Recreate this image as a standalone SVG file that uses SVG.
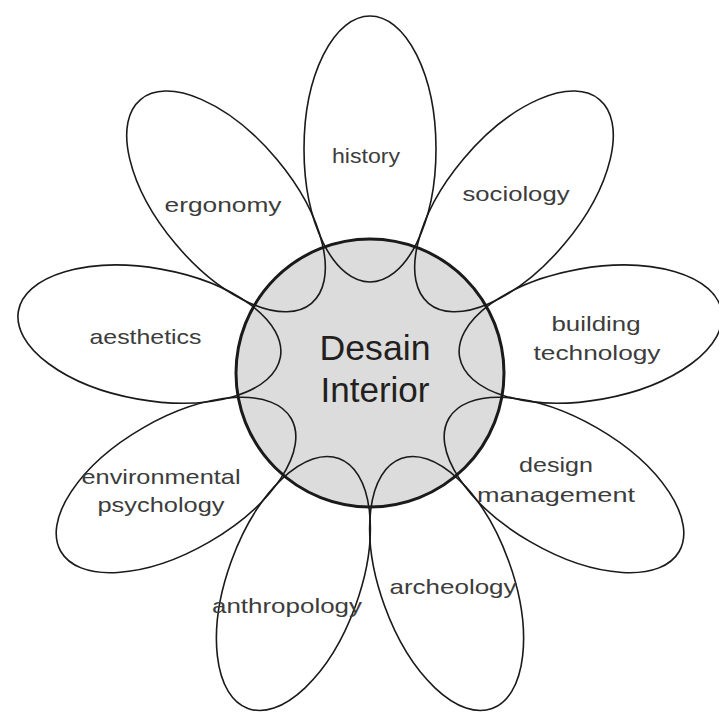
<svg xmlns="http://www.w3.org/2000/svg" width="719" height="713" viewBox="0 0 719 713">
<style>
.bg{fill:#ffffff}
.core{fill:#dcdcdc;stroke:#1a1a1a;stroke-width:3}
.petal{fill:none;stroke:#1a1a1a;stroke-width:1.6}
.lbl{font-family:"Liberation Sans",Arial,sans-serif;font-size:21px;fill:#3c3c3c;text-anchor:middle}
.big{font-family:"Liberation Sans",Arial,sans-serif;font-size:35px;fill:#231f20;text-anchor:middle}
</style>
<defs>
<ellipse id="petalShape" class="petal" cx="594" cy="373" rx="133" ry="66"/>
</defs>
<rect class="bg" x="0" y="0" width="719" height="713"/>
<g id="center">
<circle class="core" cx="370" cy="373" r="134"/>
<text class="big" x="375" y="360" textLength="111" lengthAdjust="spacingAndGlyphs">Desain</text>
<text class="big" x="375" y="402" textLength="109" lengthAdjust="spacingAndGlyphs">Interior</text>
</g>
<g id="connectors"></g>
<g id="history">
<use href="#petalShape" transform="rotate(270 370 373)"/>
<text class="lbl" x="366" y="163" textLength="68" lengthAdjust="spacingAndGlyphs">history</text>
</g>
<g id="sociology">
<use href="#petalShape" transform="rotate(310 370 373)"/>
<text class="lbl" x="516" y="201" textLength="107" lengthAdjust="spacingAndGlyphs">sociology</text>
</g>
<g id="building-technology">
<use href="#petalShape" transform="rotate(350 370 373)"/>
<text class="lbl" x="596" y="331" textLength="89" lengthAdjust="spacingAndGlyphs">building</text>
<text class="lbl" x="597" y="360" textLength="127" lengthAdjust="spacingAndGlyphs">technology</text>
</g>
<g id="design-management">
<use href="#petalShape" transform="rotate(30 370 373)"/>
<text class="lbl" x="556" y="472" textLength="74" lengthAdjust="spacingAndGlyphs">design</text>
<text class="lbl" x="556" y="502" textLength="158" lengthAdjust="spacingAndGlyphs">management</text>
</g>
<g id="archeology">
<use href="#petalShape" transform="rotate(70 370 373)"/>
<text class="lbl" x="453" y="594" textLength="127" lengthAdjust="spacingAndGlyphs">archeology</text>
</g>
<g id="anthropology">
<use href="#petalShape" transform="rotate(110 370 373)"/>
<text class="lbl" x="287" y="613" textLength="150" lengthAdjust="spacingAndGlyphs">anthropology</text>
</g>
<g id="environmental-psychology">
<use href="#petalShape" transform="rotate(150 370 373)"/>
<text class="lbl" x="161" y="484" textLength="159" lengthAdjust="spacingAndGlyphs">environmental</text>
<text class="lbl" x="161" y="512" textLength="127" lengthAdjust="spacingAndGlyphs">psychology</text>
</g>
<g id="aesthetics">
<use href="#petalShape" transform="rotate(190 370 373)"/>
<text class="lbl" x="145.5" y="344" textLength="112" lengthAdjust="spacingAndGlyphs">aesthetics</text>
</g>
<g id="ergonomy">
<use href="#petalShape" transform="rotate(230 370 373)"/>
<text class="lbl" x="223" y="212" textLength="117" lengthAdjust="spacingAndGlyphs">ergonomy</text>
</g>
</svg>
